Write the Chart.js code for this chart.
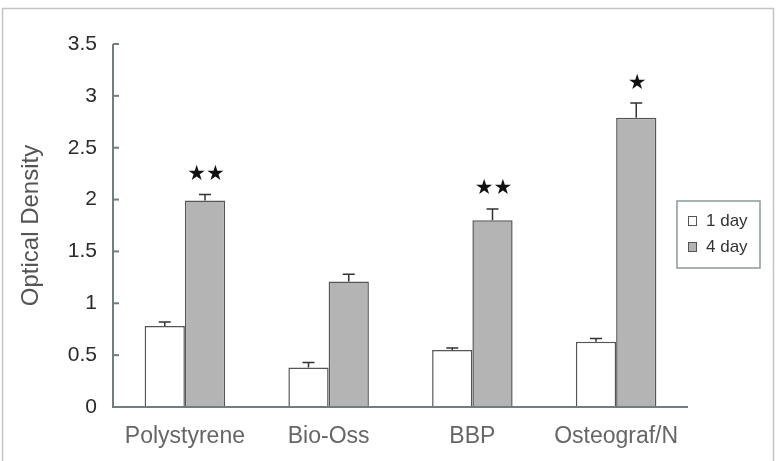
<!DOCTYPE html>
<html>
<head>
<meta charset="utf-8">
<script src="https://cdn.jsdelivr.net/npm/chart.js@4.4.1/dist/chart.umd.min.js"></script>
<style>
  html, body { margin: 0; padding: 0; background: #fff; }
  #wrap { width: 778px; height: 461px; position: relative; }
</style>
</head>
<body>
<div id="wrap"><canvas id="chart" width="778" height="461"></canvas></div>
<script>
// dữ liệu
const categories = ['Polystyrene', 'Bio-Oss', 'BBP', 'Osteograf/N'];
const seriesNames = ['1 day', '4 day'];
const day1 = [0.78, 0.38, 0.55, 0.63];
const day4 = [1.99, 1.21, 1.80, 2.79];
const day1Err = [0.04, 0.05, 0.02, 0.03];
const day4Err = [0.06, 0.07, 0.11, 0.14];
const day4Stars = ['★★', '', '★★', '★'];
const yTicks = [0, 0.5, 1, 1.5, 2, 2.5, 3, 3.5];

const FONT = '"Liberation Sans", Arial, sans-serif';

// khung, vạch chia, thanh sai số, dấu sao và chú thích
const extras = {
    id: 'extras',
    beforeDraw(chart) {
        const ctx = chart.ctx;
        ctx.save();
        ctx.fillStyle = '#fff';
        ctx.fillRect(0, 0, chart.width, chart.height);
        ctx.strokeStyle = '#c4c4c4';
        ctx.lineWidth = 1.5;
        ctx.strokeRect(2.5, 8.5, 771, 470);
        ctx.restore();
    },
    afterDatasetsDraw(chart) {
        const ctx = chart.ctx;
        const y = chart.scales.y;
        const area = chart.chartArea;
        ctx.save();

        // trục
        ctx.strokeStyle = '#6f7f7f';
        ctx.lineWidth = 2;
        ctx.beginPath();
        ctx.moveTo(area.left, y.getPixelForValue(3.5));
        ctx.lineTo(area.left, area.bottom);
        ctx.lineTo(area.right, area.bottom);
        ctx.stroke();
        yTicks.forEach(function (t) {
            const py = y.getPixelForValue(t);
            ctx.beginPath();
            ctx.moveTo(area.left, py);
            ctx.lineTo(area.left + 6, py);
            ctx.stroke();
        });

        // thanh sai số
        const errs = [day1Err, day4Err];
        const vals = [day1, day4];
        ctx.strokeStyle = '#333';
        ctx.lineWidth = 1.5;
        [0, 1].forEach(function (d) {
            const meta = chart.getDatasetMeta(d);
            meta.data.forEach(function (bar, i) {
                const top = y.getPixelForValue(vals[d][i] + errs[d][i]);
                const base = y.getPixelForValue(vals[d][i]);
                ctx.beginPath();
                ctx.moveTo(bar.x, base);
                ctx.lineTo(bar.x, top);
                ctx.moveTo(bar.x - 6, top);
                ctx.lineTo(bar.x + 6, top);
                ctx.stroke();
            });
        });

        // dấu sao
        ctx.fillStyle = '#111';
        ctx.font = '21px "DejaVu Sans", sans-serif';
        ctx.textAlign = 'center';
        ctx.textBaseline = 'middle';
        const meta4 = chart.getDatasetMeta(1);
        meta4.data.forEach(function (bar, i) {
            if (!day4Stars[i]) return;
            const top = y.getPixelForValue(day4[i] + day4Err[i]);
            ctx.fillText(day4Stars[i], bar.x + 1, top - 20);
        });

        // chú thích
        ctx.strokeStyle = '#8a9a9a';
        ctx.lineWidth = 1.5;
        ctx.strokeRect(677, 201, 83, 67);
        const fills = ['#ffffff', '#b4b4b4'];
        ctx.font = '17px ' + FONT;
        ctx.textAlign = 'left';
        seriesNames.forEach(function (name, k) {
            const cy = 221 + k * 26;
            ctx.fillStyle = fills[k];
            ctx.fillRect(688, cy - 4.5, 8, 9);
            ctx.strokeStyle = '#555';
            ctx.lineWidth = 1;
            ctx.strokeRect(688.5, cy - 4.5, 8, 9);
            ctx.fillStyle = '#333';
            ctx.fillText(name, 706, cy);
        });

        ctx.restore();
    }
};

new Chart(document.getElementById('chart'), {
    type: 'bar',
    data: {
        labels: categories,
        datasets: [{
            label: seriesNames[0],
            data: day1,
            backgroundColor: '#ffffff',
            borderColor: '#555',
            borderWidth: 1.5
        }, {
            label: seriesNames[1],
            data: day4,
            backgroundColor: '#b4b4b4',
            borderColor: '#555',
            borderWidth: 1.5
        }]
    },
    options: {
        responsive: false,
        animation: false,
        devicePixelRatio: 1,
        layout: { padding: { top: 44, right: 90, left: 0, bottom: 0 } },
        datasets: { bar: { categoryPercentage: 0.56, barPercentage: 1 } },
        scales: {
            x: {
                grid: { display: false, drawTicks: false },
                border: { display: false },
                ticks: {
                    color: '#666',
                    font: { family: FONT, size: 23 },
                    padding: 16,
                    maxRotation: 0
                },
                afterFit: function (s) { s.height = 54; }
            },
            y: {
                min: 0,
                max: 3.5,
                grid: { display: false, drawTicks: false },
                border: { display: false },
                afterBuildTicks: function (s) {
                    s.ticks = yTicks.map(function (v) { return { value: v }; });
                },
                ticks: {
                    color: '#2a2a2a',
                    font: { family: FONT, size: 21 },
                    padding: 16,
                    callback: function (v) { return String(v); }
                },
                title: {
                    display: true,
                    text: 'Optical Density',
                    color: '#555',
                    font: { family: FONT, size: 24 },
                    padding: { top: 17, bottom: 4 }
                },
                afterFit: function (s) { s.width = 113; }
            }
        },
        plugins: {
            legend: { display: false },
            tooltip: { enabled: false }
        }
    },
    plugins: [extras]
});
</script>
</body>
</html>
